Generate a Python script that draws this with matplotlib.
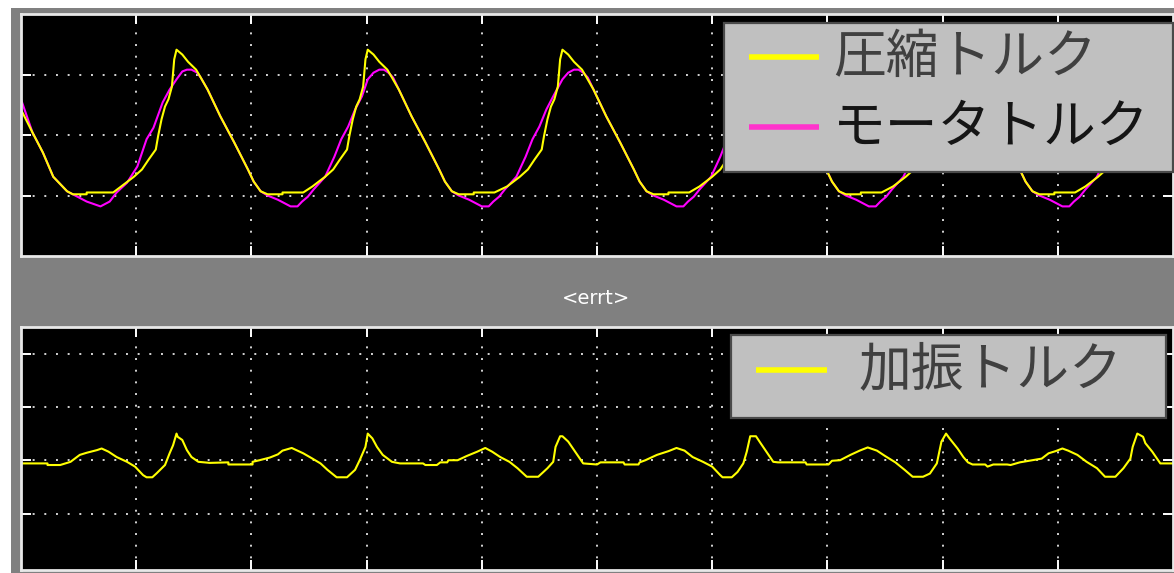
import matplotlib.pyplot as plt
from matplotlib.patches import Rectangle
from matplotlib.lines import Line2D

plt.rcParams['font.family'] = ['Noto Sans CJK JP', 'DejaVu Sans']

## scope traces, time in grid divisions (0..10)
# 圧縮トルク (compression torque), upper scope
comp_t = [0.00, 0.10, 0.19, 0.28, 0.40, 0.45, 0.57, 0.57, 0.80,
          0.87, 0.98, 1.05, 1.11, 1.17, 1.19, 1.22, 1.25, 1.28, 1.31, 1.32, 1.33, 1.35,
          1.40, 1.45, 1.52, 1.56, 1.62, 1.73, 1.85, 1.97, 2.02, 2.08, 2.14, 2.27, 2.27, 2.45,
          2.53, 2.64, 2.71, 2.77, 2.83, 2.85, 2.88, 2.91, 2.94, 2.97, 2.98, 2.99, 3.01,
          3.06, 3.11, 3.18, 3.22, 3.28, 3.39, 3.51, 3.63, 3.68, 3.74, 3.80, 3.93, 3.93, 4.11,
          4.22, 4.33, 4.40, 4.46, 4.52, 4.54, 4.57, 4.60, 4.63, 4.66, 4.67, 4.68, 4.70,
          4.75, 4.80, 4.87, 4.91, 4.97, 5.08, 5.20, 5.32, 5.37, 5.43, 5.49, 5.62, 5.62, 5.80,
          5.89, 6.00, 6.07, 6.13, 6.19, 6.21, 6.24, 6.27, 6.30, 6.33, 6.34, 6.35, 6.37,
          6.42, 6.47, 6.54, 6.58, 6.64, 6.75, 6.87, 6.99, 7.04, 7.10, 7.16, 7.29, 7.29, 7.47,
          7.57, 7.68, 7.75, 7.81, 7.87, 7.89, 7.92, 7.95, 7.98, 8.01, 8.02, 8.03, 8.05,
          8.10, 8.15, 8.22, 8.26, 8.32, 8.43, 8.55, 8.67, 8.72, 8.78, 8.84, 8.97, 8.97, 9.15,
          9.24, 9.35, 9.42, 9.48, 9.54, 9.56, 9.59, 9.62, 9.65, 9.68, 9.69, 9.70, 9.72,
          9.77, 9.82, 9.89, 9.93, 9.99, 10.10]
comp_v = [2.42, 2.04, 1.71, 1.31, 1.07, 1.02, 1.02, 1.05, 1.05,
          1.15, 1.31, 1.43, 1.60, 1.76, 1.98, 2.26, 2.47, 2.59, 2.80, 3.03, 3.25, 3.41,
          3.33, 3.21, 3.08, 2.95, 2.75, 2.31, 1.88, 1.43, 1.23, 1.07, 1.02, 1.02, 1.05, 1.05,
          1.15, 1.31, 1.43, 1.60, 1.76, 1.98, 2.26, 2.47, 2.59, 2.80, 3.03, 3.25, 3.41,
          3.33, 3.21, 3.08, 2.95, 2.75, 2.31, 1.88, 1.43, 1.23, 1.07, 1.02, 1.02, 1.05, 1.05,
          1.15, 1.31, 1.43, 1.60, 1.76, 1.98, 2.26, 2.47, 2.59, 2.80, 3.03, 3.25, 3.41,
          3.33, 3.21, 3.08, 2.95, 2.75, 2.31, 1.88, 1.43, 1.23, 1.07, 1.02, 1.02, 1.05, 1.05,
          1.15, 1.31, 1.43, 1.60, 1.76, 1.98, 2.26, 2.47, 2.59, 2.80, 3.03, 3.25, 3.41,
          3.33, 3.21, 3.08, 2.95, 2.75, 2.31, 1.88, 1.43, 1.23, 1.07, 1.02, 1.02, 1.05, 1.05,
          1.15, 1.31, 1.43, 1.60, 1.76, 1.98, 2.26, 2.47, 2.59, 2.80, 3.03, 3.25, 3.41,
          3.33, 3.21, 3.08, 2.95, 2.75, 2.31, 1.88, 1.43, 1.23, 1.07, 1.02, 1.02, 1.05, 1.05,
          1.15, 1.31, 1.43, 1.60, 1.76, 1.98, 2.26, 2.47, 2.59, 2.80, 3.03, 3.25, 3.41,
          3.33, 3.21, 3.08, 2.95, 2.75, 2.31]

# モータトルク (motor torque), upper scope
motor_t = [0.00, 0.10, 0.19, 0.28, 0.40, 0.49, 0.57, 0.69, 0.77, 0.83, 0.92, 1.01, 1.09, 1.15, 1.23, 1.29,
           1.35, 1.40, 1.44, 1.48, 1.53, 1.56,
           1.62, 1.73, 1.85, 1.97, 2.02, 2.08, 2.14, 2.23, 2.28, 2.34, 2.40, 2.44, 2.49, 2.54, 2.64, 2.72, 2.78, 2.84, 2.90, 2.96,
           3.01, 3.06, 3.11, 3.15, 3.19, 3.23,
           3.28, 3.39, 3.51, 3.63, 3.68, 3.74, 3.80, 3.89, 3.94, 4.00, 4.06, 4.10, 4.15, 4.20, 4.30, 4.38, 4.44, 4.50, 4.56, 4.62,
           4.70, 4.75, 4.80, 4.84, 4.88, 4.92,
           4.97, 5.08, 5.20, 5.32, 5.37, 5.43, 5.49, 5.58, 5.63, 5.69, 5.75, 5.79, 5.84, 5.89, 5.99, 6.07, 6.13, 6.19, 6.25, 6.31,
           6.37, 6.42, 6.47, 6.51, 6.55, 6.59,
           6.64, 6.75, 6.87, 6.99, 7.04, 7.10, 7.16, 7.25, 7.30, 7.36, 7.42, 7.46, 7.51, 7.56, 7.66, 7.74, 7.80, 7.86, 7.92, 7.98,
           8.05, 8.10, 8.15, 8.19, 8.23, 8.27,
           8.32, 8.43, 8.55, 8.67, 8.72, 8.78, 8.84, 8.93, 8.98, 9.04, 9.10, 9.14, 9.19, 9.24, 9.34, 9.42, 9.48, 9.54, 9.60, 9.66,
           9.72, 9.77, 9.82, 9.86, 9.90, 9.94,
           9.99, 10.10]
motor_v = [2.59, 2.04, 1.71, 1.31, 1.07, 0.98, 0.90, 0.82, 0.90, 1.05, 1.21, 1.48, 1.93, 2.12, 2.54, 2.75,
           2.92, 3.05, 3.08, 3.08, 3.03, 2.95,
           2.75, 2.31, 1.88, 1.43, 1.23, 1.07, 1.00, 0.93, 0.88, 0.82, 0.82, 0.90, 0.98, 1.10, 1.31, 1.64, 1.93, 2.14, 2.42, 2.64,
           2.92, 3.03, 3.08, 3.08, 3.03, 2.95,
           2.75, 2.31, 1.88, 1.43, 1.23, 1.07, 1.00, 0.93, 0.88, 0.82, 0.82, 0.90, 0.98, 1.10, 1.31, 1.64, 1.93, 2.14, 2.42, 2.64,
           2.92, 3.03, 3.08, 3.08, 3.03, 2.95,
           2.75, 2.31, 1.88, 1.43, 1.23, 1.07, 1.00, 0.93, 0.88, 0.82, 0.82, 0.90, 0.98, 1.10, 1.31, 1.64, 1.93, 2.14, 2.42, 2.64,
           2.92, 3.03, 3.08, 3.08, 3.03, 2.95,
           2.75, 2.31, 1.88, 1.43, 1.23, 1.07, 1.00, 0.93, 0.88, 0.82, 0.82, 0.90, 0.98, 1.10, 1.31, 1.64, 1.93, 2.14, 2.42, 2.64,
           2.92, 3.03, 3.08, 3.08, 3.03, 2.95,
           2.75, 2.31, 1.88, 1.43, 1.23, 1.07, 1.00, 0.93, 0.88, 0.82, 0.82, 0.90, 0.98, 1.10, 1.31, 1.64, 1.93, 2.14, 2.42, 2.64,
           2.92, 3.03, 3.08, 3.08, 3.03, 2.95,
           2.75, 2.31]

# 加振トルク (excitation torque), lower scope
vib_t = [0.01, 0.23, 0.23, 0.34, 0.43, 0.51, 0.57, 0.66, 0.70, 0.76, 0.83, 0.92, 0.99, 1.06, 1.09, 1.14, 1.18, 1.25, 1.29, 1.32, 1.35, 1.36, 1.40, 1.44, 1.48, 1.54, 1.64,
         1.80, 1.80, 2.01, 2.01, 2.07, 2.16, 2.23, 2.27, 2.35, 2.40, 2.45, 2.53, 2.60, 2.66, 2.74, 2.83, 2.90, 2.94, 2.99, 3.01, 3.05, 3.09, 3.14, 3.22, 3.29,
         3.49, 3.51, 3.61, 3.64, 3.70, 3.71, 3.79, 3.87, 3.96, 4.03, 4.09, 4.16, 4.24, 4.31, 4.39, 4.49, 4.57, 4.62, 4.64, 4.68, 4.70, 4.75, 4.81, 4.85, 4.88,
         5.00, 5.03, 5.23, 5.24, 5.36, 5.37, 5.42, 5.52, 5.62, 5.69, 5.76, 5.83, 5.92, 6.00, 6.07, 6.09, 6.17, 6.22, 6.27, 6.30, 6.33, 6.38, 6.42, 6.48, 6.53,
         6.57, 6.81, 6.82, 7.01, 7.04, 7.11, 7.20, 7.28, 7.35, 7.43, 7.50, 7.59, 7.67, 7.74, 7.83, 7.89, 7.95, 7.99, 8.03, 8.06, 8.13, 8.18, 8.22,
         8.26, 8.37, 8.39, 8.44, 8.56, 8.59, 8.67, 8.78, 8.86, 8.92, 8.98, 9.04, 9.09, 9.17, 9.25, 9.34, 9.41, 9.50, 9.57, 9.63, 9.65, 9.69, 9.74, 9.76, 9.82, 9.89, 10.0]
vib_v = [1.94, 1.94, 1.91, 1.91, 1.97, 2.10, 2.14, 2.19, 2.22, 2.16, 2.06, 1.97, 1.88, 1.72, 1.68, 1.68, 1.76, 1.91, 2.13, 2.28, 2.50, 2.44, 2.38, 2.19, 2.06, 1.97, 1.95,
         1.96, 1.92, 1.92, 1.97, 2.00, 2.05, 2.11, 2.18, 2.23, 2.18, 2.13, 2.03, 1.94, 1.82, 1.68, 1.68, 1.82, 2.00, 2.25, 2.50, 2.41, 2.25, 2.10, 1.97, 1.94,
         1.94, 1.91, 1.91, 1.96, 1.96, 2.00, 2.00, 2.08, 2.16, 2.23, 2.16, 2.06, 1.97, 1.85, 1.69, 1.69, 1.85, 1.97, 2.25, 2.45, 2.45, 2.35, 2.16, 2.03, 1.94,
         1.92, 1.96, 1.96, 1.92, 1.92, 1.96, 2.00, 2.10, 2.17, 2.23, 2.18, 2.06, 1.97, 1.88, 1.72, 1.68, 1.68, 1.78, 1.94, 2.16, 2.45, 2.45, 2.32, 2.13, 1.97,
         1.96, 1.96, 1.92, 1.92, 1.99, 2.00, 2.10, 2.18, 2.24, 2.18, 2.08, 1.96, 1.82, 1.69, 1.69, 1.75, 1.94, 2.35, 2.50, 2.41, 2.22, 2.06, 1.96,
         1.92, 1.92, 1.88, 1.92, 1.92, 1.91, 1.96, 2.00, 2.03, 2.13, 2.17, 2.22, 2.18, 2.10, 1.97, 1.85, 1.69, 1.69, 1.85, 2.03, 2.25, 2.50, 2.44, 2.32, 2.16, 1.94, 1.94]

labels_top = ['圧縮トルク', 'モータトルク']
labels_bottom = ['加振トルク']
scope_title = '<errt>'

W, H = 1174, 573  # output size in pixels


## pixel box (left, top, right, bottom) -> figure fraction rect
def px_rect(left, top, right, bottom):
    return [left / W, 1 - bottom / H, (right - left) / W, (bottom - top) / H]


## black scope look: dotted grid, inward white ticks, no labels
def scope_style(ax, ylim, yticks):
    ax.set_facecolor('black')
    ax.set_xlim(0, 10)
    ax.set_ylim(*ylim)
    ax.set_xticks(range(1, 10))
    ax.set_yticks(yticks)
    ax.tick_params(direction='in', length=7.5, width=1.4, color='white',
                   top=True, right=True, labelbottom=False, labelleft=False)
    ax.grid(True, color='#d4d4d4', linestyle=(0, (1, 5)), linewidth=1.4)
    ax.set_axisbelow(True)
    for s in ax.spines.values():
        s.set_color('#e8e8e8')
        s.set_linewidth(2)


## gray legend box drawn in figure pixels
def legend_box(fig, box, handle_x, text_x, rows, fontsize):
    l, t, r, b = box
    fig.add_artist(Rectangle((l / W, 1 - b / H), (r - l) / W, (b - t) / H,
                             transform=fig.transFigure, facecolor='#c0c0c0',
                             edgecolor='#4a4a4a', linewidth=1.6, zorder=5))
    for y, color, label, tcolor in rows:
        fig.add_artist(Line2D([handle_x[0] / W, handle_x[1] / W], [1 - y / H] * 2,
                              transform=fig.transFigure, color=color,
                              linewidth=4, solid_capstyle='butt', zorder=6))
        fig.text(text_x / W, 1 - y / H, label, fontsize=fontsize, color=tcolor,
                 va='center', ha='left', zorder=7)


fig = plt.figure(figsize=(W / 100, H / 100), dpi=100, facecolor='white')
fig.add_artist(Rectangle((11 / W, 0), 1, 1 - 8 / H, transform=fig.transFigure,
                         facecolor='#808080', edgecolor='none', zorder=0))

ax1 = fig.add_axes(px_rect(21, 14, 1173, 256))
scope_style(ax1, (0, 4), [1, 2, 3])
ax1.plot(motor_t, motor_v, color='#ff00ff', linewidth=1.5)
ax1.plot(comp_t, comp_v, color='#ffff00', linewidth=1.5)

ax2 = fig.add_axes(px_rect(21, 327, 1173, 570))
scope_style(ax2, (-0.06, 4.5), [1, 2, 3, 4])
ax2.plot(vib_t, vib_v, color='#ffff00', linewidth=1.5)

fig.text(596 / W, 1 - 298 / H, scope_title, color='white', fontsize=14,
         family='DejaVu Sans', ha='center', va='center')

legend_box(fig, (724, 23, 1173, 172), (749, 819), 833,
           [(57, '#ffff00', labels_top[0], '#404040'),
            (127, '#ff33cc', labels_top[1], '#151515')], 38)
legend_box(fig, (731, 335, 1166, 418), (756, 827), 859,
           [(370, '#ffff00', labels_bottom[0], '#404040')], 38)

fig.savefig('out.png', dpi=100, facecolor=fig.get_facecolor())
